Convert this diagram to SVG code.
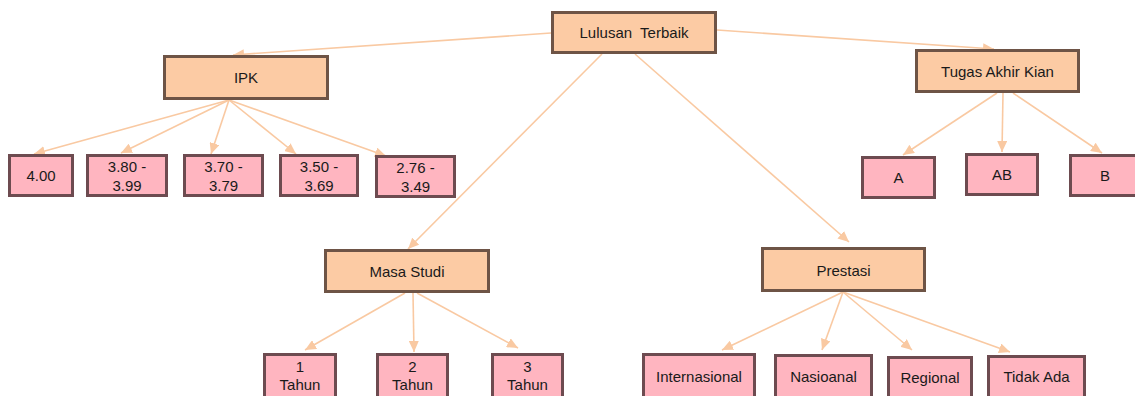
<svg xmlns="http://www.w3.org/2000/svg" width="1135" height="396" viewBox="0 0 1135 396">
<style>
.p{fill:#FCCBA4;stroke:#6E5446;stroke-width:3}
.l{fill:#FFB5C0;stroke:#6D4B50;stroke-width:3}
text{font-family:"Liberation Sans",Arial,sans-serif;font-size:15px;fill:#1a1a1a;text-anchor:middle;white-space:pre}
.c line{stroke:#F9C9A2;stroke-width:1.6;fill:none;marker-end:url(#ah)}
</style>
<defs>
<marker id="ah" markerUnits="userSpaceOnUse" markerWidth="12" markerHeight="10" refX="11" refY="5" orient="auto">
<path d="M0,0 L11,5 L0,10 Z" fill="#F9C9A2"/>
</marker>
</defs>
<rect width="1135" height="396" fill="#ffffff"/>
<g class="c" id="connectors">
<line x1="551" y1="33" x2="233" y2="55"/>
<line x1="717" y1="30" x2="994" y2="49"/>
<line x1="602" y1="54" x2="408" y2="249"/>
<line x1="635" y1="54" x2="849" y2="242"/>
<line x1="229" y1="100" x2="34" y2="154"/>
<line x1="229" y1="100" x2="121" y2="153"/>
<line x1="229" y1="100" x2="211" y2="154"/>
<line x1="229" y1="100" x2="296" y2="154"/>
<line x1="229" y1="100" x2="386" y2="156"/>
<line x1="997" y1="93" x2="903" y2="155"/>
<line x1="1003" y1="93" x2="1002" y2="152"/>
<line x1="1013" y1="93" x2="1102" y2="153"/>
<line x1="405" y1="293" x2="305" y2="350"/>
<line x1="413" y1="293" x2="414" y2="352"/>
<line x1="417" y1="293" x2="518" y2="348"/>
<line x1="843" y1="292" x2="722" y2="350"/>
<line x1="843" y1="292" x2="822" y2="350"/>
<line x1="843" y1="292" x2="912" y2="350"/>
<line x1="843" y1="292" x2="1010" y2="352"/>
</g>
<g id="lulusan"><rect class="p" x="552.5" y="12.5" width="163" height="40"/><text x="634" y="38">Lulusan  Terbaik</text></g>
<g id="ipk"><rect class="p" x="164.5" y="56.5" width="163" height="42"/><text x="246" y="83">IPK</text></g>
<g id="tugas"><rect class="p" x="916.5" y="50.5" width="162" height="41"/><text x="997.5" y="77">Tugas Akhir Kian</text></g>
<g id="masa"><rect class="p" x="325.5" y="250.5" width="163" height="41"/><text x="407" y="276.5">Masa Studi</text></g>
<g id="prestasi"><rect class="p" x="762.5" y="248.5" width="162" height="42"/><text x="843.5" y="276">Prestasi</text></g>
<g id="ipk400"><rect class="l" x="9.5" y="155.5" width="63" height="40"/><text x="41" y="181">4.00</text></g>
<g id="ipk380"><rect class="l" x="87.5" y="155.5" width="79" height="40"/><text x="127" y="171.5">3.80 -</text><text x="127" y="190.5">3.99</text></g>
<g id="ipk370"><rect class="l" x="184.5" y="155.5" width="78" height="40"/><text x="223.5" y="171.5">3.70 -</text><text x="223.5" y="190.5">3.79</text></g>
<g id="ipk350"><rect class="l" x="280.5" y="155.5" width="77" height="40"/><text x="319" y="171.5">3.50 -</text><text x="319" y="190.5">3.69</text></g>
<g id="ipk276"><rect class="l" x="376.5" y="156.5" width="78" height="40"/><text x="415.5" y="172.5">2.76 -</text><text x="415.5" y="191.5">3.49</text></g>
<g id="ta-a"><rect class="l" x="862.5" y="157.5" width="72" height="40"/><text x="898.5" y="183">A</text></g>
<g id="ta-ab"><rect class="l" x="966.5" y="154.5" width="71" height="40"/><text x="1002" y="180">AB</text></g>
<g id="ta-b"><rect class="l" x="1070.5" y="155.5" width="75" height="40"/><text x="1105" y="180.5">B</text></g>
<g id="ms1"><rect class="l" x="264.5" y="354.5" width="71" height="50"/><text x="300" y="371.5">1</text><text x="300" y="389.5">Tahun</text></g>
<g id="ms2"><rect class="l" x="377.5" y="354.5" width="70" height="50"/><text x="412.5" y="371.5">2</text><text x="412.5" y="389.5">Tahun</text></g>
<g id="ms3"><rect class="l" x="492.5" y="354.5" width="70" height="50"/><text x="527.5" y="371.5">3</text><text x="527.5" y="389.5">Tahun</text></g>
<g id="pr-int"><rect class="l" x="643.5" y="354.5" width="111" height="50"/><text x="699" y="381.5">Internasional</text></g>
<g id="pr-nas"><rect class="l" x="775.5" y="355.5" width="96" height="50"/><text x="823.5" y="381.5">Nasioanal</text></g>
<g id="pr-reg"><rect class="l" x="888.5" y="357.5" width="83" height="50"/><text x="930" y="383">Regional</text></g>
<g id="pr-tid"><rect class="l" x="988.5" y="356.5" width="96" height="50"/><text x="1036.5" y="382">Tidak Ada</text></g>
</svg>
